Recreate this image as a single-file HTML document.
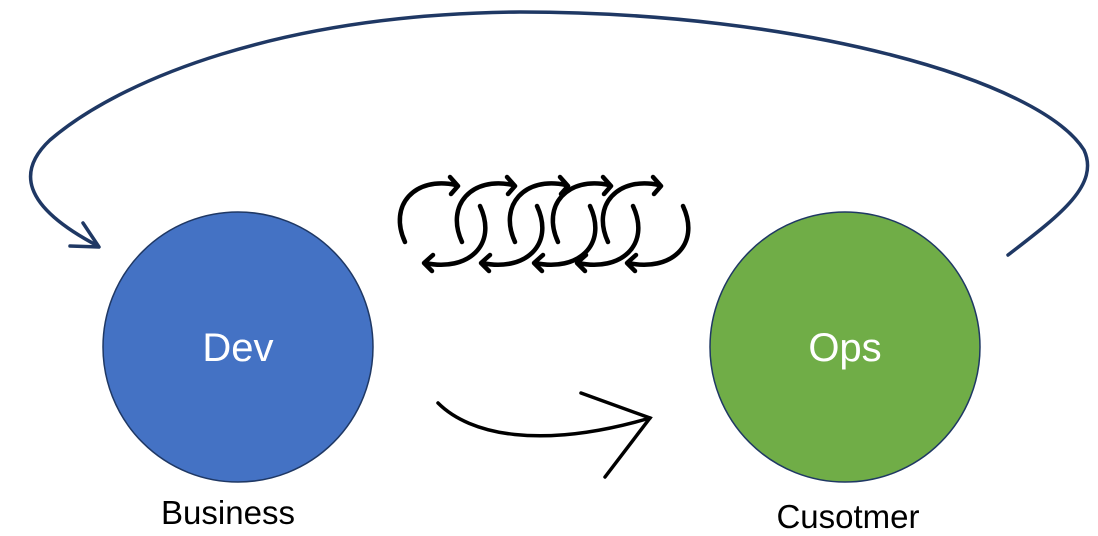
<!DOCTYPE html>
<html><head><style>
html,body{margin:0;padding:0;background:#fff;}
svg{display:block;}
text{font-family:"Liberation Sans",sans-serif;}
</style></head><body>
<svg width="1098" height="536" viewBox="0 0 1098 536" xmlns="http://www.w3.org/2000/svg">
<defs>
<g id="sp" fill="none" stroke="#000" stroke-width="4.5" stroke-linecap="round" stroke-linejoin="round">
  <path d="M405,242 C388,205 415,176 456,185"/>
  <path d="M450,177 L458,186 L451,194"/>
  <path d="M480,206 C498,245 468,272 425,263"/>
  <path d="M433,255 L424,263 L432,271"/>
</g>
</defs>
<path d="M1008,255 C1060,215 1100,185 1084,150 C1040,80 800,12 520,12 C280,14 120,80 50,140 C18,170 20,205 98,246" fill="none" stroke="#1f3864" stroke-width="3.5" stroke-linecap="round"/>
<path d="M83,223 L99,247 L70,246" fill="none" stroke="#1f3864" stroke-width="3.5" stroke-linecap="round" stroke-linejoin="round"/>
<use href="#sp"/>
<use href="#sp" x="57"/>
<use href="#sp" x="110"/>
<use href="#sp" x="153"/>
<use href="#sp" x="203"/>
<circle cx="238" cy="347" r="135" fill="#4472c4" stroke="#1f3864" stroke-width="1.5"/>
<circle cx="845" cy="347" r="135" fill="#70ad47" stroke="#1f3864" stroke-width="1.5"/>
<text x="238" y="361" font-size="40" fill="#fff" text-anchor="middle">Dev</text>
<text x="845" y="361" font-size="40" fill="#fff" text-anchor="middle">Ops</text>
<path d="M438,403 C470,435 540,450 650,418" fill="none" stroke="#000" stroke-width="3.5" stroke-linecap="round"/>
<path d="M581,393 L650,418 L605,477" fill="none" stroke="#000" stroke-width="3.5" stroke-linecap="round" stroke-linejoin="miter"/>
<text x="228" y="524" font-size="33" fill="#000" text-anchor="middle">Business</text>
<text x="848" y="528" font-size="33" fill="#000" text-anchor="middle">Cusotmer</text>
</svg>
</body></html>
